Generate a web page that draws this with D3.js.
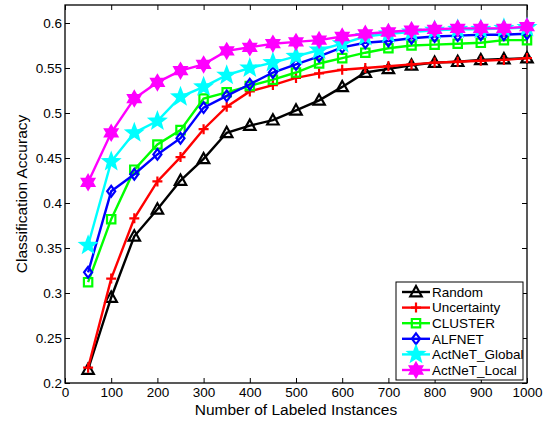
<!DOCTYPE html>
<html>
<head>
<meta charset="utf-8">
<script src="https://cdn.jsdelivr.net/npm/d3@7/dist/d3.min.js"></script>
<style>
  body { margin: 0; background: #fff; }
  svg { font-family: "Liberation Sans", Arial, sans-serif; }
</style>
</head>
<body>
<svg width="548" height="421"></svg>
<script>
const svg = d3.select('svg');

const width = 548;
const height = 421;
const margin = {top: 5, right: 21, bottom: 38, left: 65};

const sizes = [50, 100, 150, 200, 250, 300, 350, 400, 450, 500,
    550, 600, 650, 700, 750, 800, 850, 900, 950, 1000];

const random = [0.215, 0.295, 0.363, 0.393, 0.425, 0.449, 0.478, 0.486, 0.492, 0.503,
    0.514, 0.529, 0.545, 0.549, 0.553, 0.556, 0.557, 0.559, 0.560, 0.561];
const uncertainty = [0.217, 0.316, 0.383, 0.424, 0.451, 0.482, 0.507, 0.524, 0.531, 0.539,
    0.544, 0.548, 0.550, 0.552, 0.554, 0.556, 0.557, 0.558, 0.559, 0.561];
const cluster = [0.312, 0.382, 0.437, 0.465, 0.481, 0.516, 0.523, 0.530, 0.537, 0.545,
    0.555, 0.561, 0.567, 0.572, 0.575, 0.576, 0.577, 0.578, 0.581, 0.581];
const alfnet = [0.323, 0.413, 0.432, 0.454, 0.472, 0.506, 0.519, 0.532, 0.545, 0.554,
    0.563, 0.573, 0.578, 0.580, 0.583, 0.585, 0.586, 0.587, 0.587, 0.588];
const actGlobal = [0.353, 0.446, 0.478, 0.491, 0.518, 0.529, 0.542, 0.550, 0.556, 0.563,
    0.570, 0.577, 0.585, 0.588, 0.590, 0.592, 0.593, 0.593, 0.594, 0.595];
const actLocal = [0.423, 0.478, 0.516, 0.534, 0.547, 0.554, 0.569, 0.573, 0.577, 0.579,
    0.581, 0.585, 0.588, 0.590, 0.592, 0.593, 0.594, 0.594, 0.594, 0.596];

const seriesNames = ['Random', 'Uncertainty', 'CLUSTER', 'ALFNET', 'ActNeT_Global', 'ActNeT_Local'];
const seriesValues = [random, uncertainty, cluster, alfnet, actGlobal, actLocal];

const xTicks = d3.range(0, 1001, 100);
const yTicks = [0.2, 0.25, 0.3, 0.35, 0.4, 0.45, 0.5, 0.55, 0.6];

// custom marker shapes (matlab style)
const symbolPlus = {
    draw: function(ctx, size) {
        const r = Math.sqrt(size) / 2;
        ctx.moveTo(-r, 0);
        ctx.lineTo(r, 0);
        ctx.moveTo(0, -r);
        ctx.lineTo(0, r);
    }
};
const symbolTri = {
    draw: function(ctx, size) {
        const r = Math.sqrt(size) / 2;
        ctx.moveTo(0, -r * 1.05);
        ctx.lineTo(r, r * 0.75);
        ctx.lineTo(-r, r * 0.75);
        ctx.closePath();
    }
};
const symbolDiam = {
    draw: function(ctx, size) {
        const r = Math.sqrt(size) / 2;
        ctx.moveTo(0, -r * 1.2);
        ctx.lineTo(r * 0.9, 0);
        ctx.lineTo(0, r * 1.2);
        ctx.lineTo(-r * 0.9, 0);
        ctx.closePath();
    }
};
function symbolStar(n) {
    return {
        draw: function(ctx, size) {
            const R = Math.sqrt(size) / 2;
            const ri = n === 5 ? R * 0.42 : R * 0.58;
            for (let i = 0; i < 2 * n; i++) {
                const a = -Math.PI / 2 + i * Math.PI / n;
                const rr = (i % 2 === 0) ? R : ri;
                if (i === 0) {
                    ctx.moveTo(rr * Math.cos(a), rr * Math.sin(a));
                } else {
                    ctx.lineTo(rr * Math.cos(a), rr * Math.sin(a));
                }
            }
            ctx.closePath();
        }
    };
}

const styles = [
    {color: '#000000', type: symbolTri, size: 130, fill: 'none'},
    {color: '#ff0000', type: symbolPlus, size: 100, fill: 'none'},
    {color: '#00ff00', type: d3.symbolSquare, size: 70, fill: 'none'},
    {color: '#0000ff', type: symbolDiam, size: 80, fill: 'none'},
    {color: '#00ffff', type: symbolStar(5), size: 250, fill: '#00ffff'},
    {color: '#ff00ff', type: symbolStar(6), size: 200, fill: '#ff00ff'}
];

const xScale = d3.scaleLinear()
    .domain([0, 1000])
    .range([margin.left, width - margin.right]);

const yScale = d3.scaleLinear()
    .domain([0.2, 0.62])
    .range([height - margin.bottom, margin.top]);

// axes, ticks inside on all four sides
svg.append('g')
    .attr('transform', 'translate(0,' + (height - margin.bottom) + ')')
    .call(d3.axisBottom(xScale).tickValues(xTicks).tickSize(-5).tickPadding(4).tickFormat(d3.format('d')))
    .call(g => g.select('.domain').remove())
    .call(g => g.selectAll('text').attr('font-size', 13.5).attr('fill', '#000'));

svg.append('g')
    .attr('transform', 'translate(0,' + margin.top + ')')
    .call(d3.axisTop(xScale).tickValues(xTicks).tickSize(-5).tickFormat(''))
    .call(g => g.select('.domain').remove());

svg.append('g')
    .attr('transform', 'translate(' + margin.left + ',0)')
    .call(d3.axisLeft(yScale).tickValues(yTicks).tickSize(-5).tickPadding(3).tickFormat(d => String(d)))
    .call(g => g.select('.domain').remove())
    .call(g => g.selectAll('text').attr('font-size', 13.5).attr('fill', '#000'));

svg.append('g')
    .attr('transform', 'translate(' + (width - margin.right) + ',0)')
    .call(d3.axisRight(yScale).tickValues(yTicks).tickSize(-5).tickFormat(''))
    .call(g => g.select('.domain').remove());

svg.append('rect')
    .attr('x', margin.left)
    .attr('y', margin.top)
    .attr('width', width - margin.left - margin.right)
    .attr('height', height - margin.top - margin.bottom)
    .attr('fill', 'none')
    .attr('stroke', '#000')
    .attr('stroke-width', 1.3);

const line = d3.line()
    .x((d, i) => xScale(sizes[i]))
    .y(d => yScale(d));

seriesValues.forEach((vals, k) => {
    const st = styles[k];
    const g = svg.append('g');
    g.append('path')
        .attr('d', line(vals))
        .attr('fill', 'none')
        .attr('stroke', st.color)
        .attr('stroke-width', 2.4);
    g.selectAll('path.mk')
        .data(vals)
        .join('path')
        .attr('class', 'mk')
        .attr('transform', (d, i) => 'translate(' + xScale(sizes[i]) + ',' + yScale(d) + ')')
        .attr('d', d3.symbol().type(st.type).size(st.size))
        .attr('fill', st.fill)
        .attr('stroke', st.color)
        .attr('stroke-width', 2.2);
});

// axis titles
svg.append('text')
    .attr('x', (margin.left + width - margin.right) / 2)
    .attr('y', 415)
    .attr('text-anchor', 'middle')
    .attr('font-size', 15.5)
    .text('Number of Labeled Instances');

svg.append('text')
    .attr('transform', 'translate(27,' + ((margin.top + height - margin.bottom) / 2) + ') rotate(-90)')
    .attr('text-anchor', 'middle')
    .attr('font-size', 15.5)
    .text('Classification Accuracy');

// legend
const legend = svg.append('g').attr('transform', 'translate(396,282)');
legend.append('rect')
    .attr('width', 127)
    .attr('height', 98)
    .attr('fill', '#fff')
    .attr('stroke', '#000')
    .attr('stroke-width', 1);

const rows = legend.selectAll('g.row')
    .data(seriesNames)
    .join('g')
    .attr('class', 'row')
    .attr('transform', (d, i) => 'translate(0,' + (10 + i * 15.6) + ')');

rows.append('line')
    .attr('x1', 6).attr('x2', 34)
    .attr('stroke', (d, i) => styles[i].color)
    .attr('stroke-width', 2.4);

rows.append('path')
    .attr('transform', 'translate(20,0)')
    .attr('d', (d, i) => d3.symbol().type(styles[i].type).size(styles[i].size)())
    .attr('fill', (d, i) => styles[i].fill)
    .attr('stroke', (d, i) => styles[i].color)
    .attr('stroke-width', 2.2);

rows.append('text')
    .attr('x', 36)
    .attr('dy', '0.36em')
    .attr('font-size', 13.5)
    .text(d => d);
</script>
</body>
</html>
